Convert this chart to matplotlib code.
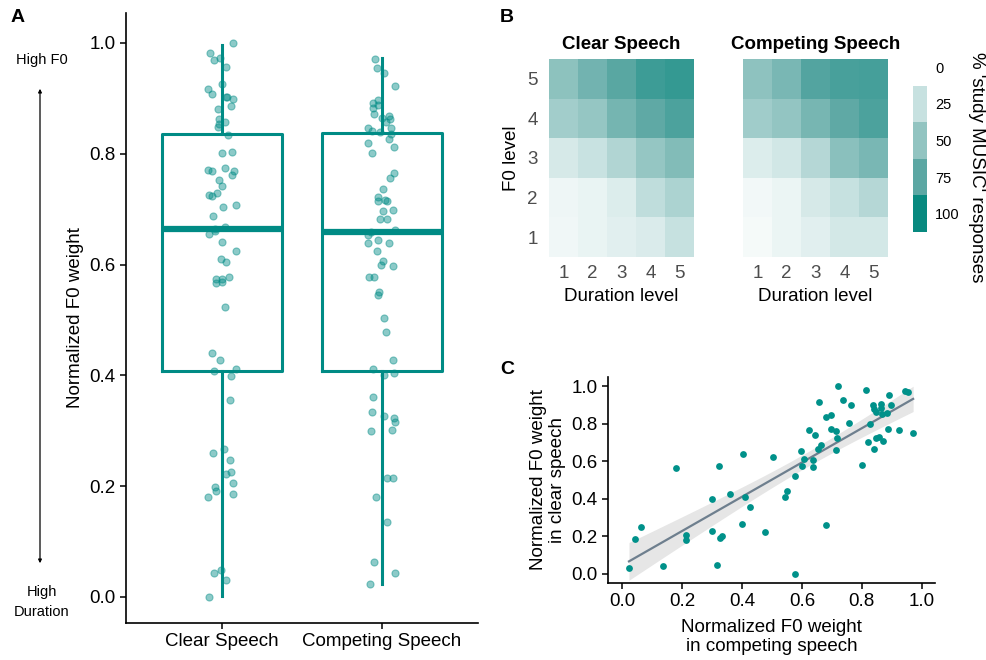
import numpy as np
import matplotlib.pyplot as plt
from matplotlib.colors import LinearSegmentedColormap

plt.rcParams['font.family'] = ['Liberation Sans', 'DejaVu Sans']

TEAL = '#008b85'

# per-listener normalized F0 weights (x = competing speech, y = clear speech)
competing = [0.023, 0.043, 0.063, 0.135, 0.181, 0.214, 0.214, 0.300, 0.301, 0.315,
             0.323, 0.326, 0.333, 0.361, 0.404, 0.400, 0.411, 0.427, 0.478, 0.504,
             0.545, 0.551, 0.577, 0.577, 0.597, 0.599, 0.606, 0.625, 0.638, 0.638,
             0.645, 0.653, 0.658, 0.662, 0.682, 0.682, 0.696, 0.698, 0.715, 0.716,
             0.714, 0.722, 0.736, 0.756, 0.765, 0.802, 0.813, 0.820, 0.826, 0.836,
             0.841, 0.840, 0.846, 0.847, 0.857, 0.863, 0.865, 0.868, 0.872, 0.883,
             0.888, 0.892, 0.897, 0.923, 0.945, 0.955, 0.971]
clear = [0.030, 0.185, 0.247, 0.043, 0.566, 0.205, 0.181, 0.399, 0.226, 0.048,
         0.573, 0.192, 0.199, 0.427, 0.641, 0.267, 0.411, 0.356, 0.222, 0.625,
         0.407, 0.440, 0.523, 0.000, 0.655, 0.573, 0.610, 0.769, 0.605, 0.568,
         0.742, 0.664, 0.916, 0.687, 0.834, 0.260, 0.849, 0.770, 0.762, 0.724,
         0.660, 1.000, 0.925, 0.804, 0.902, 0.578, 0.982, 0.703, 0.801, 0.899,
         0.881, 0.667, 0.726, 0.863, 0.730, 0.907, 0.886, 0.854, 0.708, 0.858,
         0.774, 0.956, 0.902, 0.769, 0.973, 0.970, 0.753]

conditions = ['Clear Speech', 'Competing Speech']
box_q1 = [0.407, 0.408]
box_med = [0.664, 0.659]
box_q3 = [0.836, 0.838]
box_lo = [0.002, 0.023]
box_hi = [0.996, 0.972]

# % 'study MUSIC' responses, rows = F0 level 1..5, cols = duration level 1..5
heat_clear = [[7, 10, 14, 17, 26],
              [8, 10, 16, 29, 38],
              [19, 25, 36, 49, 58],
              [43, 49, 64, 74, 80],
              [53, 65, 76, 84, 87]]
heat_competing = [[5, 9, 14, 20, 20],
                  [6, 9, 19, 26, 34],
                  [16, 21, 34, 54, 62],
                  [44, 50, 63, 74, 80],
                  [52, 62, 78, 81, 82]]
levels = [1, 2, 3, 4, 5]
legend_levels = [0, 25, 50, 75, 100]

cmap = LinearSegmentedColormap.from_list(
    'tealw', [(0, '#ffffff'), (0.25, '#c8e2e1'), (0.5, '#93c5c2'),
              (0.75, '#5da8a4'), (1.0, '#08897f')])

W, H = 987, 660
fig = plt.figure(figsize=(W / 100, H / 100), dpi=100)


def box(x0, y0, x1, y1):
    return [x0 / W, 1 - y1 / H, (x1 - x0) / W, (y1 - y0) / H]


# ---- A: boxplots ----
ax = fig.add_axes(box(126, 13, 478, 623))
stats = [dict(med=box_med[i], q1=box_q1[i], q3=box_q3[i], whislo=box_lo[i],
              whishi=box_hi[i], fliers=[]) for i in range(2)]
ax.bxp(stats, positions=[1, 2], widths=0.75, showcaps=False,
       boxprops=dict(color=TEAL, lw=2.2), whiskerprops=dict(color=TEAL, lw=2.2),
       medianprops=dict(color=TEAL, lw=4.5, solid_capstyle='butt'))
rng = np.random.default_rng(7)
for i, vals in enumerate([clear, competing]):
    xs = i + 1 + rng.uniform(-0.09, 0.09, len(vals))
    ax.scatter(xs, vals, s=26, color=TEAL, alpha=0.45, edgecolors=TEAL, lw=0.8, zorder=3)
ax.set_xlim(0.4, 2.6)
ax.set_ylim(-0.047, 1.054)
ax.set_xticks([1, 2])
ax.set_xticklabels(conditions)
ax.set_yticks([0, 0.2, 0.4, 0.6, 0.8, 1.0])
ax.set_yticklabels(['0.0', '0.2', '0.4', '0.6', '0.8', '1.0'])
ax.set_ylabel('Normalized F0 weight', fontsize=13.5, labelpad=4)
for s in ['top', 'right']:
    ax.spines[s].set_visible(False)
for s in ['left', 'bottom']:
    ax.spines[s].set_linewidth(1.2)
ax.tick_params(labelsize=13.5, length=4, width=1.1, colors='black')

ax.annotate('', xy=(40 / W, 1 - 86 / H), xytext=(40 / W, 1 - 566 / H),
            xycoords='figure fraction', textcoords='figure fraction',
            arrowprops=dict(arrowstyle='<|-|>', lw=0.9, color='black', mutation_scale=5))
fig.text(42 / W, 1 - 60 / H, 'High F0', ha='center', va='center', fontsize=10.5)
fig.text(42 / W, 1 - 602 / H, 'High\nDuration', ha='center', va='center', fontsize=10.5,
         linespacing=1.5)

# ---- B: heatmaps ----
for k, (grid, title, x0) in enumerate([(heat_clear, 'Clear Speech', 549),
                                        (heat_competing, 'Competing Speech', 743)]):
    hx = fig.add_axes(box(x0, 59, x0 + 145, 257))
    hx.pcolormesh(np.arange(0.5, 6), np.arange(0.5, 6), np.array(grid), cmap=cmap,
                  vmin=0, vmax=100)
    hx.set_xticks(levels)
    hx.set_yticks(levels)
    hx.set_title(title, fontsize=13.5, fontweight='bold', pad=7)
    hx.set_xlabel('Duration level', fontsize=13.5, labelpad=4)
    hx.tick_params(length=0, labelsize=13.5, colors='#4d4d4d', pad=6)
    hx.tick_params(axis='y', pad=8)
    hx.xaxis.label.set_color('black')
    if k == 0:
        hx.set_ylabel('F0 level', fontsize=13.5, labelpad=5)
    else:
        hx.set_yticklabels([])
    for s in hx.spines.values():
        s.set_visible(False)

lx = fig.add_axes(box(913, 49, 927, 232))
lx.imshow(np.array(legend_levels).reshape(-1, 1), cmap=cmap, vmin=0, vmax=100,
          aspect='auto', extent=(0, 1, len(legend_levels), 0))
lx.set_xticks([])
lx.set_yticks(np.arange(len(legend_levels)) + 0.5)
lx.set_yticklabels([str(v) for v in legend_levels])
lx.yaxis.tick_right()
lx.tick_params(length=0, labelsize=10.5, pad=6)
for s in lx.spines.values():
    s.set_visible(False)
fig.text(977 / W, 1 - 167 / H, "% 'study MUSIC' responses", rotation=-90,
         ha='center', va='center', fontsize=13.5)

# ---- C: scatter ----
cx = fig.add_axes(box(608, 377, 935, 583))
xa = np.array(competing)
ya = np.array(clear)
slope, icpt = np.polyfit(xa, ya, 1)
xs = np.linspace(xa.min(), xa.max(), 100)
fit = icpt + slope * xs
n = len(xa)
resid = ya - (icpt + slope * xa)
s_err = np.sqrt(np.sum(resid ** 2) / (n - 2))
se = s_err * np.sqrt(1 / n + (xs - xa.mean()) ** 2 / np.sum((xa - xa.mean()) ** 2))
cx.fill_between(xs, fit - 1.997 * se, fit + 1.997 * se, color='#e6e6e6', lw=0, zorder=1)
cx.plot(xs, fit, color='#6e7f8e', lw=1.6, zorder=2)
cx.scatter(xa, ya, s=24, color='#00918a', lw=0, zorder=3)
cx.set_xlim(-0.047, 1.044)
cx.set_ylim(-0.05, 1.05)
ticks = [0, 0.2, 0.4, 0.6, 0.8, 1.0]
cx.set_xticks(ticks)
cx.set_yticks(ticks)
cx.set_xticklabels(['0.0', '0.2', '0.4', '0.6', '0.8', '1.0'])
cx.set_yticklabels(['0.0', '0.2', '0.4', '0.6', '0.8', '1.0'])
cx.set_xlabel('Normalized F0 weight\nin competing speech', fontsize=13.5, labelpad=6,
              linespacing=1.15)
cx.set_ylabel('Normalized F0 weight\nin clear speech', fontsize=13.5, labelpad=4,
              linespacing=1.15)
for s in ['top', 'right']:
    cx.spines[s].set_visible(False)
for s in ['left', 'bottom']:
    cx.spines[s].set_linewidth(1.2)
cx.tick_params(labelsize=13.5, length=4, width=1.1)

fig.text(18 / W, 1 - 18 / H, 'A', fontsize=14, fontweight='bold', ha='center', va='center')
fig.text(507 / W, 1 - 18 / H, 'B', fontsize=14, fontweight='bold', ha='center', va='center')
fig.text(507 / W, 1 - 370 / H, 'C', fontsize=14, fontweight='bold', ha='center', va='center')

fig.savefig('out.png', dpi=100)
